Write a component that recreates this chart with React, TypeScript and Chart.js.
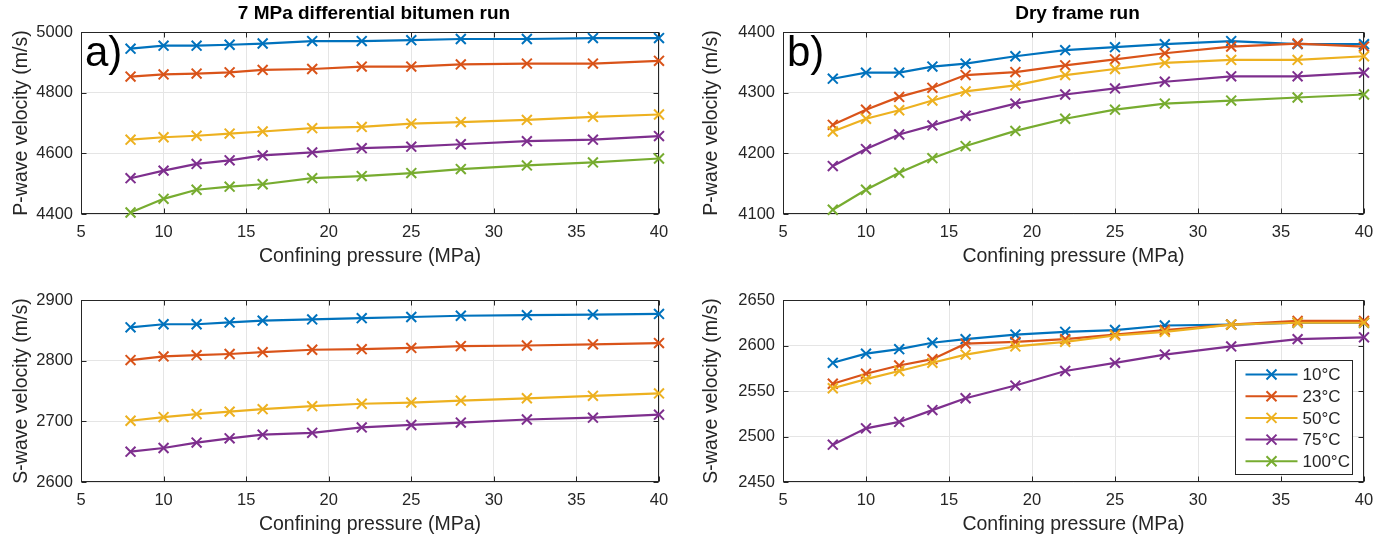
import React, { useEffect, useRef } from "react";
import { Chart, registerables } from "chart.js";

Chart.register(...registerables);

// ---------------- data ----------------
const pressure = [8, 10, 12, 14, 16, 19, 22, 25, 28, 32, 36, 40];
const seriesLabels = ["10°C", "23°C", "50°C", "75°C", "100°C"];
const seriesColors = ["#0072BD", "#D95319", "#EDB120", "#7E2F8E", "#77AC30"];

// a) 7 MPa differential bitumen run, P-wave
const bitumenVp10 = [4945, 4955, 4955, 4958, 4962, 4970, 4970, 4973, 4977, 4977, 4980, 4980];
const bitumenVp23 = [4853, 4860, 4863, 4867, 4875, 4878, 4886, 4886, 4893, 4896, 4896, 4905];
const bitumenVp50 = [4645, 4653, 4658, 4665, 4672, 4683, 4687, 4698, 4703, 4710, 4720, 4728];
const bitumenVp75 = [4518, 4543, 4565, 4577, 4593, 4603, 4617, 4622, 4630, 4640, 4645, 4657];
const bitumenVp100 = [4405, 4450, 4480, 4490, 4498, 4518, 4525, 4535, 4548, 4560, 4570, 4583];

// b) Dry frame run, P-wave
const dryVp10 = [4323, 4333, 4333, 4343, 4348, 4360, 4370, 4375, 4380, 4385, 4380, 4380];
const dryVp23 = [4247, 4272, 4293, 4308, 4329, 4334, 4345, 4355, 4365, 4376, 4381, 4376];
const dryVp50 = [4236, 4257, 4271, 4287, 4302, 4312, 4329, 4339, 4349, 4354, 4354, 4360];
const dryVp75 = [4179, 4207, 4231, 4246, 4262, 4282, 4297, 4307, 4318, 4327, 4327, 4333];
const dryVp100 = [4107, 4140, 4168, 4192, 4212, 4237, 4257, 4272, 4282, 4287, 4292, 4297];

// c) bitumen run, S-wave
const bitumenVs10 = [2855, 2860, 2860, 2863, 2866, 2868, 2870, 2872, 2874, 2875, 2876, 2877];
const bitumenVs23 = [2801, 2807, 2809, 2811, 2814, 2818, 2819, 2821, 2824, 2825, 2827, 2829];
const bitumenVs50 = [2701, 2707, 2712, 2716, 2720, 2725, 2729, 2731, 2734, 2738, 2742, 2746];
const bitumenVs75 = [2650, 2656, 2665, 2672, 2678, 2681, 2690, 2694, 2698, 2703, 2706, 2711];

// d) dry frame run, S-wave
const dryVs10 = [2581, 2591, 2596, 2603, 2607, 2612, 2615, 2617, 2622, 2623, 2625, 2625];
const dryVs23 = [2558, 2569, 2578, 2585, 2602, 2604, 2607, 2612, 2617, 2623, 2627, 2627];
const dryVs50 = [2553, 2563, 2572, 2581, 2590, 2599, 2604, 2611, 2615, 2623, 2625, 2625];
const dryVs75 = [2491, 2509, 2516, 2529, 2542, 2556, 2572, 2581, 2590, 2599, 2607, 2609];
const dryVs100: number[] = [];

const xTitle = "Confining pressure (MPa)";

// ---------------- layout ----------------
const FONT = "'Liberation Sans', Arial, Helvetica, sans-serif";
const TEXT = "#262626";

type Panel = {
  key: string;
  left: number;
  top: number;
  width: number;
  height: number;
  padTop: number;
  padRight: number;
  yAxisWidth: number;
  xAxisHeight: number;
  series: number[][];
  yMin: number;
  yMax: number;
  yStep: number;
  yTitle: string;
  yTitleX: number;
  xTitleY: number;
  title?: string;
  titleY?: number;
  letter?: string;
  legend?: boolean;
};

const panels: Panel[] = [
  {
    key: "a", left: 0, top: 0, width: 694, height: 270, padTop: 32, padRight: 35,
    yAxisWidth: 81, xAxisHeight: 56,
    series: [bitumenVp10, bitumenVp23, bitumenVp50, bitumenVp75, bitumenVp100],
    yMin: 4400, yMax: 5000, yStep: 200, yTitle: "P-wave velocity (m/s)", yTitleX: 22, xTitleY: 257,
    title: "7 MPa differential bitumen run", titleY: 14, letter: "a)",
  },
  {
    key: "b", left: 694, top: 0, width: 694, height: 270, padTop: 32, padRight: 24,
    yAxisWidth: 89, xAxisHeight: 56,
    series: [dryVp10, dryVp23, dryVp50, dryVp75, dryVp100],
    yMin: 4100, yMax: 4400, yStep: 100, yTitle: "P-wave velocity (m/s)", yTitleX: 18, xTitleY: 257,
    title: "Dry frame run", titleY: 14, letter: "b)",
  },
  {
    key: "c", left: 0, top: 270, width: 694, height: 271, padTop: 30, padRight: 35,
    yAxisWidth: 81, xAxisHeight: 59,
    series: [bitumenVs10, bitumenVs23, bitumenVs50, bitumenVs75],
    yMin: 2600, yMax: 2900, yStep: 100, yTitle: "S-wave velocity (m/s)", yTitleX: 22, xTitleY: 255,
  },
  {
    key: "d", left: 694, top: 270, width: 694, height: 271, padTop: 30, padRight: 24,
    yAxisWidth: 89, xAxisHeight: 59,
    series: [dryVs10, dryVs23, dryVs50, dryVs75, dryVs100],
    yMin: 2450, yMax: 2650, yStep: 50, yTitle: "S-wave velocity (m/s)", yTitleX: 18, xTitleY: 255,
    legend: true,
  },
];

function drawCross(ctx: CanvasRenderingContext2D, x: number, y: number, h: number) {
  ctx.beginPath();
  ctx.moveTo(x - h, y - h);
  ctx.lineTo(x + h, y + h);
  ctx.moveTo(x - h, y + h);
  ctx.lineTo(x + h, y - h);
  ctx.stroke();
}

function makePlugin(p: Panel) {
  return {
    id: "frame-" + p.key,
    beforeDatasetsDraw(chart: any) {
      const { ctx, chartArea: a, scales } = chart;
      ctx.save();
      ctx.strokeStyle = TEXT;
      ctx.lineWidth = 1;
      const L = Math.round(a.left) + 0.5, R = Math.round(a.right) - 0.5;
      const T = Math.round(a.top) + 0.5, B = Math.round(a.bottom) - 0.5;
      ctx.strokeRect(L, T, R - L, B - T);
      const tl = 5;
      ctx.beginPath();
      for (let v = 5; v <= 40; v += 5) {
        const px = Math.round(scales.x.getPixelForValue(v)) + 0.5;
        ctx.moveTo(px, B); ctx.lineTo(px, B - tl);
        ctx.moveTo(px, T); ctx.lineTo(px, T + tl);
      }
      for (let v = p.yMin; v <= p.yMax; v += p.yStep) {
        const py = Math.round(scales.y.getPixelForValue(v)) + 0.5;
        ctx.moveTo(L, py); ctx.lineTo(L + tl, py);
        ctx.moveTo(R, py); ctx.lineTo(R - tl, py);
      }
      ctx.stroke();
      ctx.restore();
    },
    afterDraw(chart: any) {
      const { ctx, chartArea: a } = chart;
      ctx.save();
      ctx.fillStyle = TEXT;
      ctx.textAlign = "center";
      ctx.textBaseline = "middle";
      if (p.title) {
        ctx.font = `bold 19px ${FONT}`;
        ctx.fillStyle = "#000";
        ctx.fillText(p.title, (a.left + a.right) / 2 + 4, p.titleY);
      }
      ctx.fillStyle = TEXT;
      ctx.font = `19.5px ${FONT}`;
      ctx.fillText(xTitle, (a.left + a.right) / 2, p.xTitleY);
      ctx.save();
      ctx.translate(p.yTitleX, (a.top + a.bottom) / 2);
      ctx.rotate(-Math.PI / 2);
      ctx.fillText(p.yTitle, 0, 0);
      ctx.restore();
      if (p.letter) {
        ctx.fillStyle = "#000";
        ctx.textAlign = "left";
        ctx.textBaseline = "alphabetic";
        ctx.font = `42px ${FONT}`;
        ctx.fillText(p.letter, a.left + 4, a.top + 34);
      }
      if (p.legend) {
        const w = 117, h = 114;
        const bx = Math.round(a.right - 12 - w) + 0.5;
        const by = Math.round(a.bottom - 8 - h) + 0.5;
        ctx.fillStyle = "#fff";
        ctx.fillRect(bx, by, w, h);
        ctx.strokeStyle = TEXT;
        ctx.lineWidth = 1;
        ctx.strokeRect(bx, by, w, h);
        ctx.font = `17px ${FONT}`;
        ctx.textAlign = "left";
        ctx.textBaseline = "middle";
        for (let i = 0; i < seriesLabels.length; i++) {
          const y = by + 14 + i * 21.7;
          ctx.strokeStyle = seriesColors[i];
          ctx.lineWidth = 2;
          ctx.beginPath();
          ctx.moveTo(bx + 10, y);
          ctx.lineTo(bx + 62, y);
          ctx.stroke();
          ctx.lineWidth = 2;
          drawCross(ctx, bx + 36, y, 5);
          ctx.fillStyle = TEXT;
          ctx.fillText(seriesLabels[i], bx + 67, y + 1);
        }
      }
      ctx.restore();
    },
  };
}

function PanelChart({ p }: { p: Panel }) {
  const ref = useRef<HTMLCanvasElement | null>(null);
  useEffect(() => {
    if (!ref.current) return;
    const datasets = p.series.map((vals, i) => ({
      label: seriesLabels[i],
      data: vals.map((v, j) => ({ x: pressure[j], y: v })),
      borderColor: seriesColors[i],
      backgroundColor: seriesColors[i],
      borderWidth: 2.2,
      pointStyle: "crossRot" as const,
      pointRadius: 7,
      pointBorderWidth: 2,
      pointBorderColor: seriesColors[i],
      tension: 0,
      clip: false as any,
      order: 10 - i,
    }));
    const chart = new Chart(ref.current, {
      type: "line",
      data: { datasets },
      options: {
        animation: false,
        responsive: false,
        devicePixelRatio: 1,
        layout: { padding: { top: p.padTop, right: p.padRight, left: 0, bottom: 0 } },
        plugins: { legend: { display: false }, tooltip: { enabled: false }, title: { display: false } },
        scales: {
          x: {
            type: "linear",
            min: 5,
            max: 40,
            afterFit: (s: any) => { s.height = p.xAxisHeight; },
            grid: { color: "#e5e5e5", drawTicks: false, lineWidth: 1 },
            border: { display: false },
            ticks: { stepSize: 5, padding: 9, color: TEXT, font: { family: FONT, size: 16.5 }, maxRotation: 0, autoSkip: false, callback: (v: any) => String(v) },
          },
          y: {
            type: "linear",
            min: p.yMin,
            max: p.yMax,
            afterFit: (s: any) => { s.width = p.yAxisWidth; },
            grid: { color: "#e5e5e5", drawTicks: false, lineWidth: 1 },
            border: { display: false },
            ticks: { stepSize: p.yStep, padding: 8, color: TEXT, font: { family: FONT, size: 16.5 }, autoSkip: false, callback: (v: any) => String(v) },
          },
        },
      },
      plugins: [makePlugin(p)],
    } as any);
    return () => chart.destroy();
  }, [p]);
  return (
    <canvas
      ref={ref}
      width={p.width}
      height={p.height}
      style={{ position: "absolute", left: p.left, top: p.top, width: p.width, height: p.height }}
    />
  );
}

export default function App() {
  return (
    <div style={{ position: "absolute", left: 0, top: 0, width: 1388, height: 541, background: "#fff" }}>
      {panels.map((p) => (
        <PanelChart key={p.key} p={p} />
      ))}
    </div>
  );
}
